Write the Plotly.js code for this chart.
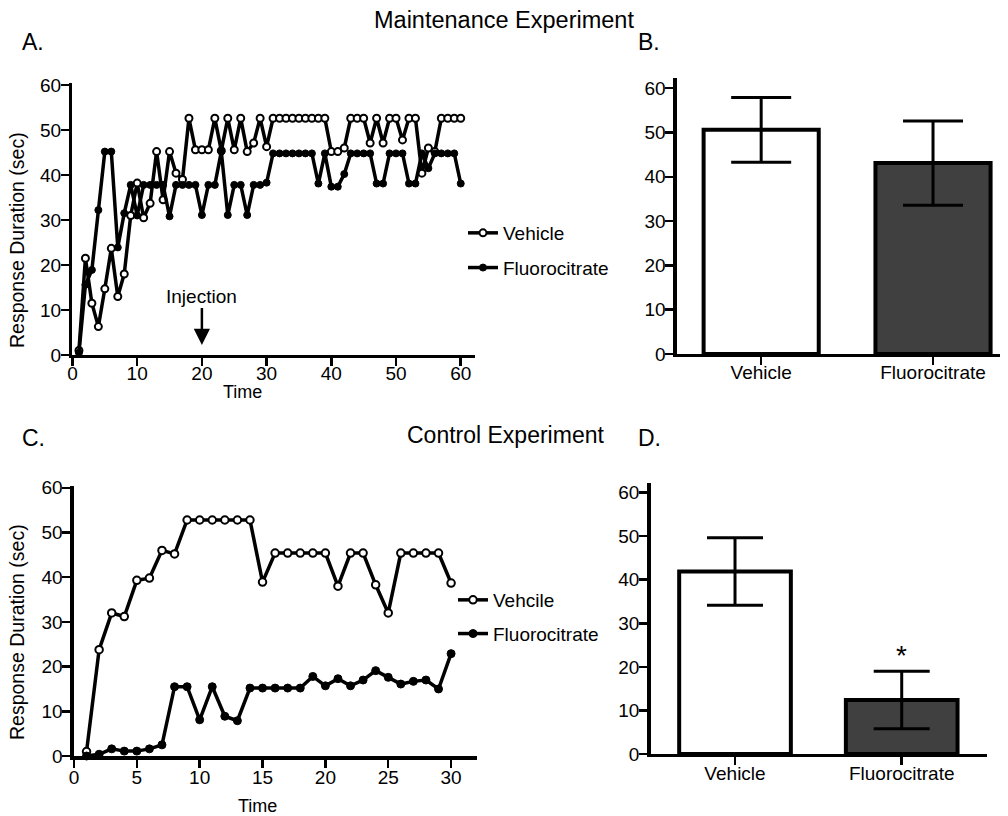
<!DOCTYPE html>
<html>
<head>
<meta charset="utf-8">
<script src="https://cdn.plot.ly/plotly-3.0.1.min.js"></script>
<style>html,body{margin:0;padding:0;background:#fff;}#chart{width:1008px;height:816px;}</style>
</head>
<body>
<div id="chart"></div>
<script>
// ---- Data: Panel A (Maintenance Experiment, time course) ----
const timeA = [1,2,3,4,5,6,7,8,9,10,11,12,13,14,15,16,17,18,19,20,21,22,23,24,25,26,27,28,29,30,
               31,32,33,34,35,36,37,38,39,40,41,42,43,44,45,46,47,48,49,50,51,52,53,54,55,56,57,58,59,60];
const vehicleA = [1.0,21.5,11.5,6.3,14.7,23.7,13.0,18.0,31.0,38.2,30.5,33.7,45.2,34.5,45.2,40.4,39.0,52.6,45.6,45.6,
                  45.6,52.6,45.4,52.6,45.6,52.6,45.2,47.1,52.6,46.3,52.6,52.6,52.6,52.6,52.6,52.6,52.6,52.6,52.6,45.2,
                  45.2,46.0,52.6,52.6,52.6,47.1,52.6,47.1,52.6,52.6,47.8,52.6,52.6,40.4,46.0,45.2,52.6,52.6,52.6,52.6];
const fluoroA = [0.5,15.6,18.9,32.2,45.2,45.2,23.9,31.5,37.8,31.0,37.8,37.8,37.8,37.8,30.8,37.8,37.8,37.8,37.8,31.1,
                 37.8,37.8,45.2,31.1,37.8,37.8,31.1,37.8,37.8,38.3,44.8,44.8,44.8,44.8,44.8,44.8,44.8,38.1,44.8,37.4,
                 37.4,40.2,44.8,44.8,44.8,44.8,38.1,38.1,44.8,44.8,44.8,38.1,38.1,44.8,41.5,44.8,44.8,44.8,44.8,38.1];

// ---- Data: Panel C (Control Experiment, time course) ----
const timeC = [1,2,3,4,5,6,7,8,9,10,11,12,13,14,15,16,17,18,19,20,21,22,23,24,25,26,27,28,29,30];
const vehicleC = [1.0,23.8,32.0,31.2,39.3,39.8,46.0,45.2,52.8,52.8,52.8,52.8,52.8,52.8,38.9,45.4,45.4,45.4,45.4,45.4,
                  38.0,45.4,45.4,38.3,32.0,45.4,45.4,45.4,45.4,38.7];
const fluoroC = [0.0,0.4,1.6,1.1,1.1,1.6,2.5,15.5,15.5,8.1,15.5,8.9,7.9,15.2,15.2,15.2,15.2,15.2,17.8,15.7,
                 17.3,15.7,17.0,19.1,17.6,16.1,16.7,17.0,15.0,22.9];

// ---- Data: Panels B and D (bar means ± error) ----
const barCategories = ['Vehicle', 'Fluorocitrate'];
const maintMeans = [50.6, 43.1];
const maintErr = [7.3, 9.5];
const controlMeans = [41.9, 12.4];
const controlErr = [7.75, 6.6];

// ---- Tick values ----
const yTicks = [0, 10, 20, 30, 40, 50, 60];
const xTicksA = [0, 10, 20, 30, 40, 50, 60];
const xTicksC = [0, 5, 10, 15, 20, 25, 30];

const legendNamesA = ['Vehicle', 'Fluorocitrate'];
const legendNamesC = ['Vehcile', 'Fluorocitrate'];

const lineStyle = {color: '#000', width: 3.5};
const openMarker = (s) => ({symbol: 'circle', size: s, color: '#fff', line: {color: '#000', width: 2}});
const filledMarker = (s) => ({symbol: 'circle', size: s, color: '#000', line: {color: '#000', width: 1}});

const traces = [
  {x: timeA, y: vehicleA, xaxis: 'x', yaxis: 'y', type: 'scatter', mode: 'lines+markers',
   line: lineStyle, marker: openMarker(7), name: legendNamesA[0], legend: 'legend', legendgroup: 'av', cliponaxis: false},
  {x: timeA, y: fluoroA, xaxis: 'x', yaxis: 'y', type: 'scatter', mode: 'lines+markers',
   line: lineStyle, marker: filledMarker(7), name: legendNamesA[1], legend: 'legend', legendgroup: 'af', cliponaxis: false},
  {x: timeC, y: vehicleC, xaxis: 'x3', yaxis: 'y3', type: 'scatter', mode: 'lines+markers',
   line: lineStyle, marker: openMarker(7.5), name: legendNamesC[0], legend: 'legend2', legendgroup: 'cv', cliponaxis: false},
  {x: timeC, y: fluoroC, xaxis: 'x3', yaxis: 'y3', type: 'scatter', mode: 'lines+markers',
   line: lineStyle, marker: filledMarker(8), name: legendNamesC[1], legend: 'legend2', legendgroup: 'cf', cliponaxis: false},
  {x: barCategories, y: maintMeans, xaxis: 'x2', yaxis: 'y2', type: 'bar', width: 0.67, showlegend: false,
   marker: {color: ['#ffffff', '#404040'], line: {color: '#000', width: 4}},
   error_y: {type: 'data', array: maintErr, visible: true, color: '#000', thickness: 3, width: 30}},
  {x: barCategories, y: controlMeans, xaxis: 'x4', yaxis: 'y4', type: 'bar', width: 0.67, showlegend: false,
   marker: {color: ['#ffffff', '#404040'], line: {color: '#000', width: 4}},
   error_y: {type: 'data', array: controlErr, visible: true, color: '#000', thickness: 3, width: 28}}
];

function axis(domain, range, extra) {
  return Object.assign({
    domain: domain, range: range, showgrid: false, zeroline: false,
    showline: true, linecolor: '#000', linewidth: 3.5,
    ticks: 'outside', ticklen: 8, tickwidth: 2.5, tickcolor: '#000',
    tickfont: {size: 19, color: '#000'}, fixedrange: true
  }, extra || {});
}
const yTickStand = -4;

const layout = {
  width: 1008, height: 816,
  margin: {l: 0, r: 0, t: 0, b: 0},
  paper_bgcolor: '#fff', plot_bgcolor: '#fff',
  font: {family: 'Liberation Sans, Arial, sans-serif', size: 19, color: '#000'},
  showlegend: true,
  xaxis: axis([0.0719, 0.4712], [0, 62.2], {anchor: 'y', tickvals: xTicksA, ticklabelstandoff: -9}),
  yaxis: axis([0.5650, 0.8986], [0, 60.5], {anchor: 'x', tickvals: yTicks, ticklabelstandoff: yTickStand}),
  xaxis2: axis([0.6716, 0.9921], [-0.49, 1.39], {anchor: 'y2', type: 'category', ticklabelstandoff: -9}),
  yaxis2: axis([0.5662, 0.9044], [0, 62.3], {anchor: 'x2', tickvals: yTicks, ticklabelstandoff: yTickStand}),
  xaxis3: axis([0.0734, 0.4732], [0, 32.06], {anchor: 'y3', tickvals: xTicksC, ticklabelstandoff: -6}),
  yaxis3: axis([0.0735, 0.4044], [0, 60.4], {anchor: 'x3', tickvals: yTicks, ticklabelstandoff: yTickStand}),
  xaxis4: axis([0.6455, 0.9789], [-0.506, 1.51], {anchor: 'y4', type: 'category', ticklabelstandoff: -8}),
  yaxis4: axis([0.0760, 0.4081], [0, 62.2], {anchor: 'x4', tickvals: yTicks, ticklabelstandoff: yTickStand}),
  legend: {x: 0.4593, y: 1 - 214/816, xanchor: 'left', yanchor: 'top', bgcolor: 'rgba(0,0,0,0)',
    font: {size: 19}, itemwidth: 30, tracegroupgap: 7, traceorder: 'grouped'},
  legend2: {x: 453/1008, y: 1 - 581/816, xanchor: 'left', yanchor: 'top', bgcolor: 'rgba(0,0,0,0)',
    font: {size: 19}, itemwidth: 30, tracegroupgap: 6, traceorder: 'grouped'},
  annotations: [
    {text: 'Maintenance Experiment', xref: 'paper', yref: 'paper', x: 0.5, y: 0.9755,
     xanchor: 'center', yanchor: 'middle', showarrow: false, font: {size: 23.5}},
    {text: 'Control Experiment', xref: 'paper', yref: 'paper', x: 0.501, y: 0.4669,
     xanchor: 'center', yanchor: 'middle', showarrow: false, font: {size: 23}},
    {text: 'A.', xref: 'paper', yref: 'paper', x: 0.0198, y: 0.9485, xanchor: 'left', yanchor: 'middle', showarrow: false, font: {size: 23}},
    {text: 'B.', xref: 'paper', yref: 'paper', x: 0.631, y: 0.9485, xanchor: 'left', yanchor: 'middle', showarrow: false, font: {size: 23}},
    {text: 'C.', xref: 'paper', yref: 'paper', x: 0.0198, y: 0.4632, xanchor: 'left', yanchor: 'middle', showarrow: false, font: {size: 23}},
    {text: 'D.', xref: 'paper', yref: 'paper', x: 0.631, y: 0.4632, xanchor: 'left', yanchor: 'middle', showarrow: false, font: {size: 23}},
    // axis titles
    {text: 'Response Duration (sec)', xref: 'paper', yref: 'paper', x: 17/1008, y: 1 - 240/816, textangle: -90,
     xanchor: 'center', yanchor: 'middle', showarrow: false, font: {size: 19.5}},
    {text: 'Response Duration (sec)', xref: 'paper', yref: 'paper', x: 17/1008, y: 1 - 632/816, textangle: -90,
     xanchor: 'center', yanchor: 'middle', showarrow: false, font: {size: 19.5}},
    {text: 'Time', xref: 'paper', yref: 'paper', x: 242/1008, y: 1 - 392/816,
     xanchor: 'center', yanchor: 'middle', showarrow: false, font: {size: 18}},
    {text: 'Time', xref: 'paper', yref: 'paper', x: 257/1008, y: 1 - 806/816,
     xanchor: 'center', yanchor: 'middle', showarrow: false, font: {size: 18}},
    {text: 'Injection', xref: 'x', yref: 'y', x: 20, y: 2.2, showarrow: true, arrowhead: 2, arrowsize: 1.3,
     arrowwidth: 2.5, arrowcolor: '#000', ax: 0, ay: -49, font: {size: 19}},
    {text: '*', xref: 'x4', yref: 'y4', x: barCategories[1], y: 22.5, showarrow: false,
     xanchor: 'center', yanchor: 'middle', font: {size: 28}}
  ]
};

Plotly.newPlot('chart', traces, layout, {staticPlot: true, displayModeBar: false});
</script>
</body>
</html>
